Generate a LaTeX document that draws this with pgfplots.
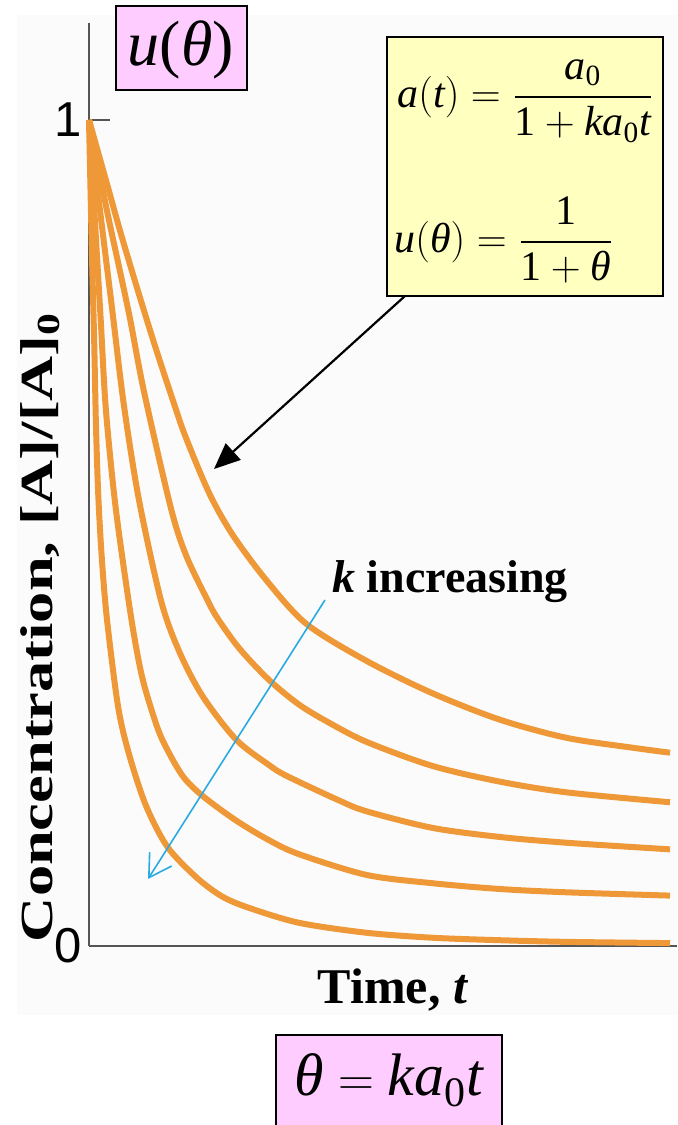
\documentclass[border=0pt]{standalone}
\usepackage{fontspec}
\setmainfont{Liberation Serif}
\setsansfont{Liberation Sans}
\usepackage{amsmath}
\usepackage{pgfplots}
\pgfplotsset{compat=1.18}
\usetikzlibrary{arrows.meta}

\definecolor{curve}{RGB}{238,152,56}
\definecolor{axisgray}{RGB}{85,85,85}
\definecolor{pinkbox}{RGB}{255,204,255}
\definecolor{yellowbox}{RGB}{255,255,192}
\definecolor{kblue}{RGB}{41,171,226}
\definecolor{panel}{RGB}{251,251,251}

\newcommand\fs[1]{\fontsize{#1}{#1}\selectfont}
% layout helper: 0.5pt per unit, origin at the lower-left corner of the axis
\newcommand\pxc[2]{({(#1-89)*0.5pt},{(946-#2)*0.5pt})}

\begin{document}
\begin{tikzpicture}
\useasboundingbox \pxc{0}{1125} rectangle \pxc{677}{0};
\fill[panel] \pxc{17}{1015} rectangle \pxc{677}{15};

\begin{axis}[
  at={(0,0)}, anchor=south west,
  scale only axis, width=294pt, height=461.5pt,
  xmin=0, xmax=10.12, ymin=0, ymax=1.1174,
  axis x line*=bottom, axis y line*=left,
  axis line style={draw=axisgray, line width=0.8pt},
  xtick=\empty,
  ytick={0,1}, yticklabels={0,1},
  tick align=inside, major tick length=10.5pt,
  tick style={draw=axisgray, line width=0.8pt},
  yticklabel style={font=\fs{24.5}\sffamily, inner sep=0pt, xshift=-3.5pt},
  clip=false,
  decay/.style={draw=curve, line width=3pt, smooth, tension=0.5, mark=none},
]
% slowest decay
\addplot[decay] coordinates {
 (0,1.000) (0.30,0.925) (0.55,0.862) (0.83,0.796) (1.12,0.730) (1.47,0.655)
 (1.67,0.615) (2.07,0.548) (2.47,0.498) (3.05,0.443) (3.74,0.390) (4.78,0.345)
 (5.91,0.306) (7.07,0.274) (8.22,0.252) (9.36,0.240) (10.0,0.234)
};
\addplot[decay] coordinates {
 (0,1.000) (0.31,0.890) (0.53,0.818) (0.71,0.758) (0.95,0.670) (1.41,0.530)
 (1.67,0.473) (2.03,0.420) (2.21,0.397) (2.59,0.360) (3.10,0.322) (3.62,0.292)
 (4.14,0.270) (4.78,0.247) (5.91,0.218) (7.07,0.199) (8.22,0.186) (10.0,0.174)
};
\addplot[decay] coordinates {
 (0,1.000) (0.26,0.850) (0.40,0.770) (0.60,0.655) (0.86,0.540) (1.24,0.418)
 (1.55,0.357) (1.95,0.303) (2.53,0.250) (3.10,0.219) (3.40,0.206) (4.31,0.176)
 (4.78,0.163) (5.91,0.143) (7.07,0.132) (8.22,0.125) (10.0,0.117)
};
\addplot[decay] coordinates {
 (0,1.000) (0.10,0.880) (0.20,0.760) (0.29,0.650) (0.46,0.530) (0.72,0.400)
 (0.90,0.330) (1.08,0.285) (1.26,0.250) (1.60,0.207) (1.95,0.182) (2.53,0.152)
 (3.10,0.128) (3.62,0.111) (4.78,0.086) (5.91,0.076) (7.07,0.069) (8.22,0.065)
 (10.0,0.061)
};
% fastest decay
\addplot[decay] coordinates {
 (0,1.000) (0.05,0.840) (0.09,0.730) (0.12,0.630) (0.16,0.545) (0.22,0.470)
 (0.31,0.395) (0.50,0.290) (0.69,0.232) (0.98,0.170) (1.35,0.120) (1.85,0.083)
 (2.29,0.060) (2.76,0.046) (3.62,0.028) (4.78,0.016) (5.91,0.010) (7.07,0.007)
 (8.22,0.005) (10.0,0.0035)
};
\end{axis}

% axis titles
\node[rotate=90] at \pxc{40}{627}
  {\resizebox{315pt}{\height}{\fs{23}\bfseries Concentration, [A]/[A]\textsubscript{0}}};
\node[anchor=base] at \pxc{393}{1003} {\fs{25}\bfseries Time, \textit{t}};

% k increasing
\draw[kblue, line width=0.8pt, -{Straight Barb[length=11pt,width=13pt]}]
  \pxc{325}{600} -- \pxc{148}{879};
\node at \pxc{450}{582} {\fs{23}\bfseries\textit{k} increasing};

% formula box
\filldraw[fill=yellowbox, draw=black, line width=1.2pt] \pxc{387}{296} rectangle \pxc{663}{37};
\node[anchor=west, inner sep=0pt] at \pxc{397}{101}
  {\fs{21}$\displaystyle \textit{a}(\textit{t}) = \frac{\textit{a}_{\textup{0}}}{\textup{1}+\textit{ka}_{\textup{0}}\textit{t}}$};
\node[anchor=west, inner sep=0pt] at \pxc{394}{240}
  {\fs{21}$\displaystyle \textit{u}(\textit{θ}) = \frac{\textup{1}}{\textup{1}+\textit{θ}}$};
\draw[black, line width=1.1pt, -{Triangle[length=13pt,width=11pt]}]
  \pxc{405}{296} -- \pxc{214}{469};

% u(theta) label
\filldraw[fill=pinkbox, draw=black, line width=1.2pt] \pxc{116}{90} rectangle \pxc{247}{6};
\node at \pxc{181}{50} {\fs{32}\textit{u}(\textit{θ})};

% theta definition
\filldraw[fill=pinkbox, draw=black, line width=1.2pt] \pxc{276}{1140} rectangle \pxc{502}{1035};
\node at \pxc{389}{1080} {\fs{30}$\textit{θ} = \textit{ka}_{\textup{0}}\textit{t}$};
\end{tikzpicture}
\end{document}
